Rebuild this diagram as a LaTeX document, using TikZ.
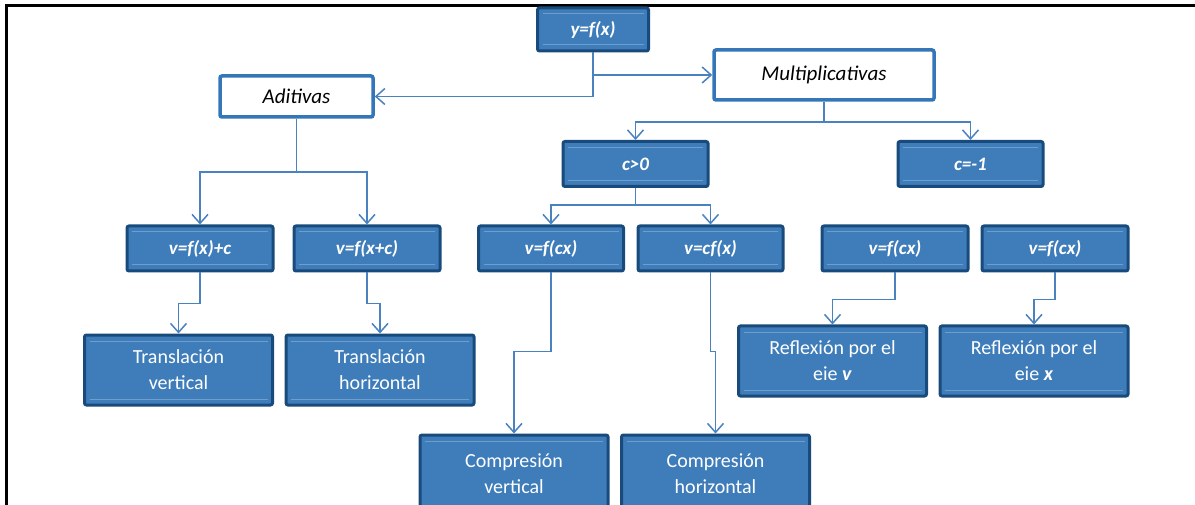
\documentclass[tikz,border=0pt]{standalone}
\usepackage{fontspec}
\setmainfont{Carlito}
\usetikzlibrary{arrows.meta}
\definecolor{boxblue}{RGB}{62,125,186}
\definecolor{boxedge}{RGB}{24,74,124}
\definecolor{linkblue}{RGB}{74,130,192}
\definecolor{wedge}{RGB}{52,118,184}

\begin{document}
\begin{tikzpicture}[x=1pt,y=-1pt,
	bluebox/.style={draw=boxedge,fill=boxblue,line width=3pt,rounded corners=2pt,
		text=white,align=center,inner sep=0pt,font=\fontsize{20}{26}\selectfont,
		path picture={\draw[boxblue!75!white,line width=1pt]
			([shift={(5pt,-6pt)}]path picture bounding box.north west) --
			([shift={(-5pt,-6pt)}]path picture bounding box.north east)
			([shift={(5pt,6pt)}]path picture bounding box.south west) --
			([shift={(-5pt,6pt)}]path picture bounding box.south east);}},
	fbox/.style={bluebox,minimum width=146pt,minimum height=45pt,font=\fontsize{19}{24}\selectfont\bfseries\itshape},
	tbox/.style={bluebox,minimum width=188pt,minimum height=70pt},
	wbox/.style={draw=wedge,fill=white,line width=3.5pt,rounded corners=2pt,
		font=\fontsize{21}{24}\selectfont\itshape},
	link/.style={draw=linkblue,line width=1.6pt,-{Straight Barb[length=9pt,width=16pt,line width=1.5pt]}}
]
\useasboundingbox (0,0) rectangle (1195,505);
\draw[line width=3pt] (6,505) -- (6,6) -- (1195,6);

\node[fbox,minimum width=111pt,minimum height=43pt] (yfx) at (593,29.5) {y=f(x)};
\node[wbox,minimum width=220pt,minimum height=50pt] (mult) at (824,75) {Multiplicativas};
\node[wbox,minimum width=153pt,minimum height=41pt] (adit) at (296.5,96.5) {Aditivas};
\node[fbox,minimum width=145pt] (cpos) at (635.5,164) {c>0};
\node[fbox,minimum width=145pt] (cneg) at (970.5,164) {c=-1};

\node[fbox] (fxc) at (200,248.5) {v=f(x)+c};
\node[fbox] (fxpc) at (367,248.5) {v=f(x+c)};
\node[fbox,minimum width=145pt] (fcx) at (551,248.5) {v=f(cx)};
\node[fbox,minimum width=145pt] (cfx) at (710.5,248.5) {v=cf(x)};
\node[fbox] (fcxa) at (895,248.5) {v=f(cx)};
\node[fbox] (fcxb) at (1055,248.5) {v=f(cx)};

\node[tbox] (tvert) at (178.5,370) {Translación\\vertical};
\node[tbox] (thor) at (380,370) {Translación\\horizontal};
\node[tbox] (rfy) at (832.5,361) {Reflexión por el\\eie \textbf{\textit{v}}};
\node[tbox] (rfx) at (1034,361) {Reflexión por el\\eie \textbf{\textit{x}}};
\node[tbox,minimum height=78pt] (cvert) at (514,474) {Compresión\\vertical};
\node[tbox,minimum height=78pt] (chor) at (715.5,474) {Compresión\\horizontal};

\coordinate (mj) at (824,122);
\coordinate (aj) at (296.5,172);
\coordinate (cj) at (635.5,205);

\draw[link] (yfx.south) |- (adit.east);
\draw[link] (yfx.south |- mult.west) -- (mult.west);
\draw[link] (mult.south) -- (mj) -| (cpos.north);
\draw[link] (mj) -| (cneg.north);
\draw[link] (adit.south) -- (aj) -| (fxc.north);
\draw[link] (aj) -| (fxpc.north);
\draw[link] (cpos.south) -- (cj) -| (fcx.north);
\draw[link] (cj) -| (cfx.north);

\draw[link] (fxc.south) -- ++(0,31) -| (tvert.north);
\draw[link] (fxpc.south) -- ++(0,31) -| (thor.north);
\draw[link] (fcx.south) -- ++(0,79) -| (cvert.north);
\draw[link] (cfx.south) -- ++(0,79) -| (chor.north);
\draw[link] (fcxa.south) -- ++(0,27) -| (rfy.north);
\draw[link] (fcxb.south) -- ++(0,27) -| (rfx.north);
\end{tikzpicture}
\end{document}
